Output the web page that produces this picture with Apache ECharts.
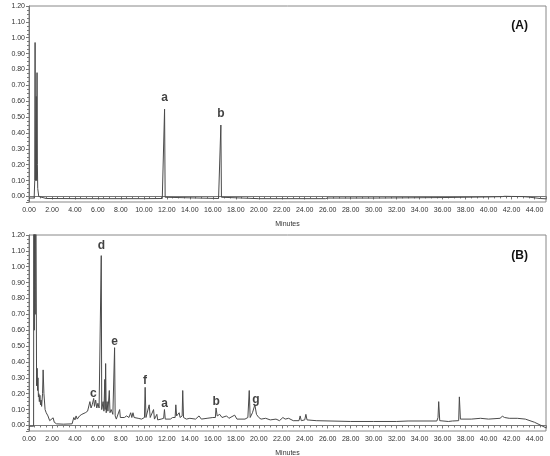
<!DOCTYPE html>
<html>
<head>
<meta charset="utf-8">
<script src="https://cdn.jsdelivr.net/npm/echarts@6/dist/echarts.min.js"></script>
<style>
html, body { margin: 0; padding: 0; background: #fff; }
#chart { width: 550px; height: 456px; }
</style>
</head>
<body>
<div id="chart"></div>
<script>
// chromatogram (A): standards, [minutes, AU]
var traceA = [
    [0, -0.01], [0.45, -0.01], [0.5, 0.1], [0.53, 0.97], [0.56, 0.1], [0.6, 0.41], [0.63, 0.63],
    [0.66, 0.1], [0.7, 0.78], [0.73, 0.2], [0.76, 0.05], [0.85, 0.0], [1.0, -0.01], [1.5, -0.013],
    [5, -0.014], [10, -0.014], [11.6, -0.013], [11.75, -0.01], [11.8, 0.55], [11.85, -0.005],
    [12.0, -0.013], [16.5, -0.013], [16.65, -0.01], [16.7, 0.45], [16.75, -0.005], [16.9, -0.013],
    [20, -0.014], [25.8, -0.014], [26, -0.01], [30, -0.01], [34, -0.008], [36, -0.007],
    [38, -0.005], [40, -0.003], [41.2, -0.001], [41.3, 0.006], [41.4, 0.001], [42, 0.0],
    [43, -0.001], [43.5, -0.004], [44.5, -0.013], [45, -0.015]
];

// chromatogram (B): sample, [minutes, AU]
var traceB = [
    [0, -0.005], [0.4, -0.005], [0.42, 2.0], [0.46, 0.6], [0.5, 2.0], [0.54, 0.7], [0.58, 2.0],
    [0.62, 2.0], [0.66, 0.25], [0.71, 0.36], [0.75, 0.22], [0.78, 0.3], [0.82, 0.18], [0.86, 0.2],
    [0.9, 0.15], [0.95, 0.19], [1.0, 0.13], [1.05, 0.16], [1.1, 0.12], [1.18, 0.2], [1.23, 0.35],
    [1.3, 0.2], [1.4, 0.1], [1.5, 0.08], [1.65, 0.06], [1.8, 0.03], [1.95, 0.025], [2.1, 0.048],
    [2.2, 0.02], [2.4, 0.01], [3.0, 0.008], [3.75, 0.01], [3.9, 0.05], [4.0, 0.035], [4.1, 0.06],
    [4.2, 0.04], [4.4, 0.06], [4.6, 0.07], [4.9, 0.08], [5.1, 0.09], [5.25, 0.1], [5.3, 0.15],
    [5.4, 0.11], [5.5, 0.13], [5.63, 0.17], [5.7, 0.12], [5.8, 0.16], [5.9, 0.11], [6.0, 0.14],
    [6.1, 0.11], [6.2, 0.12], [6.26, 0.1], [6.29, 1.07], [6.33, 0.1], [6.45, 0.15], [6.52, 0.09],
    [6.6, 0.29], [6.63, 0.1], [6.67, 0.39], [6.72, 0.08], [6.8, 0.15], [6.87, 0.09], [6.99, 0.22],
    [7.05, 0.08], [7.15, 0.1], [7.3, 0.07], [7.4, 0.08], [7.45, 0.49], [7.5, 0.06], [7.6, 0.04],
    [7.75, 0.05], [7.89, 0.1], [7.95, 0.05], [8.1, 0.06], [8.3, 0.05], [8.5, 0.06], [8.7, 0.05],
    [8.85, 0.08], [8.95, 0.05], [9.05, 0.08], [9.15, 0.05], [9.3, 0.06], [9.5, 0.045], [9.8, 0.04],
    [10.05, 0.05], [10.11, 0.24], [10.18, 0.05], [10.3, 0.06], [10.46, 0.13], [10.55, 0.05],
    [10.7, 0.06], [10.84, 0.1], [10.92, 0.04], [11.05, 0.05], [11.13, 0.07], [11.2, 0.035],
    [11.5, 0.04], [11.72, 0.045], [11.79, 0.1], [11.86, 0.04], [12.3, 0.04], [12.5, 0.05],
    [12.72, 0.05], [12.78, 0.13], [12.85, 0.06], [13.0, 0.05], [13.07, 0.08], [13.15, 0.05],
    [13.33, 0.06], [13.38, 0.22], [13.45, 0.05], [13.7, 0.04], [14.0, 0.045], [14.5, 0.04],
    [14.8, 0.06], [15.0, 0.04], [15.5, 0.045], [16.0, 0.05], [16.22, 0.05], [16.28, 0.11],
    [16.38, 0.06], [16.6, 0.07], [16.8, 0.05], [17.2, 0.06], [17.4, 0.045], [17.9, 0.065],
    [18.1, 0.04], [18.8, 0.04], [19.05, 0.05], [19.17, 0.22], [19.25, 0.05], [19.45, 0.08],
    [19.66, 0.13], [19.8, 0.07], [20.0, 0.05], [20.2, 0.04], [20.6, 0.045], [21.0, 0.035],
    [21.5, 0.04], [21.8, 0.03], [22.1, 0.05], [22.3, 0.04], [22.6, 0.045], [23.0, 0.03],
    [23.5, 0.03], [23.6, 0.06], [23.7, 0.03], [24.0, 0.035], [24.1, 0.07], [24.2, 0.035],
    [25.0, 0.03], [28.0, 0.025], [30.0, 0.025], [32.0, 0.025], [33.0, 0.028], [35.5, 0.028],
    [35.6, 0.05], [35.66, 0.15], [35.75, 0.03], [36.5, 0.025], [36.85, 0.028], [36.88, 0.038],
    [36.95, 0.028], [37.4, 0.03], [37.46, 0.18], [37.55, 0.04], [38.5, 0.04], [39.3, 0.045],
    [40.0, 0.04], [41.0, 0.045], [41.2, 0.058], [41.4, 0.05], [41.8, 0.045], [42.5, 0.045],
    [43.2, 0.04], [44.0, 0.02], [45.0, -0.015]
];

// peak letters [label, minutes, AU]
var peaksA = [['a', 11.8, 0.62], ['b', 16.7, 0.52]];
var peaksB = [
    ['c', 5.6, 0.2], ['d', 6.3, 1.13], ['e', 7.45, 0.53], ['f', 10.1, 0.28],
    ['a', 11.8, 0.14], ['b', 16.3, 0.15], ['g', 19.75, 0.16]
];

var panelNames = ['(A)', '(B)'];

var myChart = echarts.init(document.getElementById('chart'));

function xAxisFor(i) {
    return {
        gridIndex: i,
        type: 'value',
        min: 0,
        max: 45,
        interval: 2,
        name: 'Minutes',
        nameLocation: 'middle',
        nameGap: 19,
        nameTextStyle: { fontSize: 7, color: '#333', fontFamily: 'Liberation Sans' },
        axisLine: { lineStyle: { color: '#777', width: 1 } },
        axisTick: { length: 3, lineStyle: { color: '#777' } },
        minorTick: { show: true, splitNumber: 4, length: 2, lineStyle: { color: '#777' } },
        splitLine: { show: false },
        axisLabel: {
            fontSize: 7, color: '#333', margin: 5, showMaxLabel: false,
            fontFamily: 'Liberation Sans',
            formatter: function (v) { return v.toFixed(2); }
        }
    };
}

function yAxisFor(i) {
    return {
        gridIndex: i,
        type: 'value',
        min: -0.035,
        max: 1.2,
        splitNumber: 12,
        name: 'AU',
        nameLocation: 'middle',
        nameRotate: 90,
        nameGap: 19,
        nameTextStyle: { fontSize: 7, color: '#333', fontFamily: 'Liberation Sans' },
        axisLine: { show: true, lineStyle: { color: '#777', width: 1 } },
        axisTick: { length: 3, lineStyle: { color: '#777' } },
        minorTick: { show: true, splitNumber: 4, length: 2, lineStyle: { color: '#777' } },
        splitLine: { show: false },
        axisLabel: {
            fontSize: 7, color: '#333', margin: 4, showMinLabel: false,
            fontFamily: 'Liberation Sans',
            formatter: function (v) { return v.toFixed(2); }
        }
    };
}

function letterSeries(peaks, i) {
    return {
        type: 'scatter',
        xAxisIndex: i,
        yAxisIndex: i,
        symbolSize: 0,
        silent: true,
        data: peaks.map(function (p) { return { name: p[0], value: [p[1], p[2]] }; }),
        label: {
            show: true,
            position: 'inside',
            formatter: '{b}',
            fontSize: 12,
            fontWeight: 'bold',
            color: '#111',
            fontFamily: 'Liberation Sans'
        }
    };
}

function traceSeries(trace, i) {
    return {
        type: 'line',
        xAxisIndex: i,
        yAxisIndex: i,
        data: trace,
        showSymbol: false,
        clip: true,
        lineStyle: { color: '#4a4a4a', width: 1 }
    };
}

var option = {
    animation: false,
    backgroundColor: '#fff',
    title: [
        { text: panelNames[0], right: 17, top: 15, textStyle: { fontSize: 12, fontWeight: 'bold', color: '#111', fontFamily: 'Liberation Sans' } },
        { text: panelNames[1], right: 17, top: 245, textStyle: { fontSize: 12, fontWeight: 'bold', color: '#111', fontFamily: 'Liberation Sans' } }
    ],
    grid: [
        { left: 29, right: 4, top: 6, height: 196, show: true, borderColor: '#888', borderWidth: 1, outerBoundsMode: 'none', containLabel: false },
        { left: 29, right: 4, top: 235, height: 196, show: true, borderColor: '#888', borderWidth: 1, outerBoundsMode: 'none', containLabel: false }
    ],
    xAxis: [xAxisFor(0), xAxisFor(1)],
    yAxis: [yAxisFor(0), yAxisFor(1)],
    series: [
        traceSeries(traceA, 0),
        traceSeries(traceB, 1),
        letterSeries(peaksA, 0),
        letterSeries(peaksB, 1)
    ]
};

myChart.setOption(option);
</script>
</body>
</html>
